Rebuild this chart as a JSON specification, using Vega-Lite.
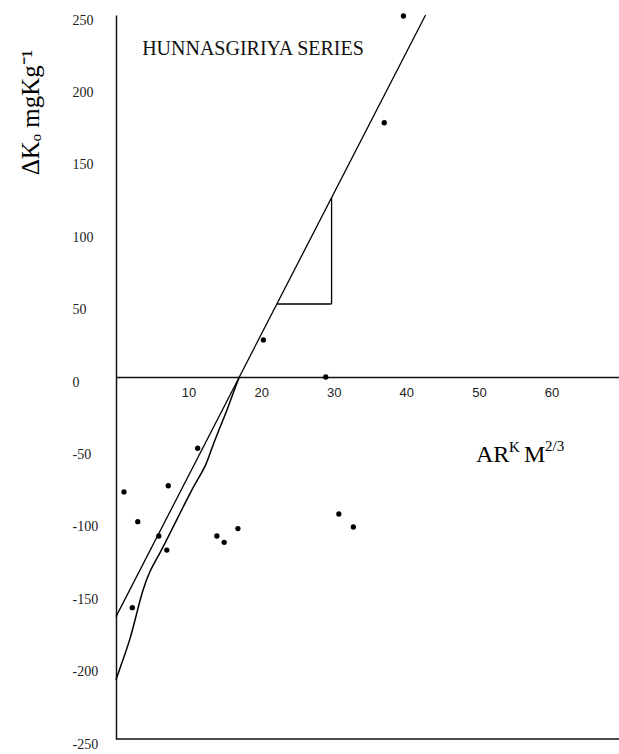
{
  "$schema": "https://vega.github.io/schema/vega-lite/v6.json",
  "width": 503,
  "height": 724,
  "autosize": {"type": "none"},
  "padding": {"left": 116, "top": 15, "right": 0, "bottom": 15},
  "background": "white",
  "config": {
    "view": {"stroke": null},
    "axis": {"grid": false, "ticks": false, "domainColor": "#111", "domainWidth": 1.5},
    "axisX": {"labelFont": "Liberation Sans", "labelFontSize": 13, "labelColor": "#222"},
    "axisY": {"labelFont": "Liberation Serif", "labelFontSize": 14, "labelColor": "#222"}
  },
  "datasets": {
    "samples": [
      {"x": 1.1, "y": -79.4},
      {"x": 3.0, "y": -99.9},
      {"x": 2.25, "y": -159.3},
      {"x": 5.9, "y": -109.8},
      {"x": 7.2, "y": -75.1},
      {"x": 7.0, "y": -119.5},
      {"x": 11.25, "y": -49.2},
      {"x": 13.9, "y": -109.8},
      {"x": 14.9, "y": -114.2},
      {"x": 16.8, "y": -104.7},
      {"x": 20.3, "y": 25.6},
      {"x": 28.9, "y": 0},
      {"x": 30.7, "y": -94.6},
      {"x": 32.7, "y": -103.6},
      {"x": 36.96, "y": 175.6},
      {"x": 39.6, "y": 249.3}
    ],
    "segments": [
      {"x": 0, "y": -165.5, "x2": 42.65, "y2": 250},
      {"x": 22.2, "y": 50.4, "x2": 29.7, "y2": 50.4},
      {"x": 29.7, "y": 50.4, "x2": 29.7, "y2": 123.8}
    ],
    "curve": [
      {"x": 0.0, "y": -209},
      {"x": 0.79, "y": -197.7},
      {"x": 1.93, "y": -181.6},
      {"x": 2.85, "y": -163.2},
      {"x": 3.68, "y": -147.1},
      {"x": 4.68, "y": -133.3},
      {"x": 6.06, "y": -121.6},
      {"x": 6.75, "y": -114.8},
      {"x": 7.99, "y": -102.4},
      {"x": 9.27, "y": -89.6},
      {"x": 10.43, "y": -78.0},
      {"x": 11.34, "y": -70.1},
      {"x": 12.4, "y": -60.9},
      {"x": 12.95, "y": -52.5},
      {"x": 14.09, "y": -37.6},
      {"x": 15.47, "y": -20.8},
      {"x": 16.4, "y": -7.4},
      {"x": 17.0, "y": 0}
    ],
    "anchor": [{}]
  },
  "layer": [
    {
      "data": {"name": "samples"},
      "mark": {"type": "point", "filled": true, "color": "#000", "size": 28, "opacity": 1},
      "encoding": {
        "x": {
          "field": "x",
          "type": "quantitative",
          "scale": {"domain": [0, 69.3], "nice": false, "zero": false},
          "axis": {
            "orient": "bottom",
            "offset": -362,
            "values": [10, 20, 30, 40, 50, 60],
            "labelPadding": 9,
            "labelFont": "Liberation Sans",
            "labelFontSize": 13,
            "labelColor": "#222",
            "title": null
          }
        },
        "y": {
          "field": "y",
          "type": "quantitative",
          "scale": {"domain": [-250, 250], "nice": false, "zero": false},
          "axis": {
            "values": [-250, -200, -150, -100, -50, 0, 50, 100, 150, 200, 250],
            "labelExpr": "replace(datum.label, '−', '-')",
            "labelAlign": "left",
            "labelPadding": 44,
            "labelOffset": 5,
            "labelFont": "Liberation Serif",
            "labelFontSize": 14,
            "labelColor": "#222",
            "title": "ΔKₒ mgKg⁻¹",
            "titleFont": "Liberation Serif",
            "titleFontSize": 25,
            "titleFontWeight": "normal",
            "titleColor": "#000",
            "titleAngle": -90,
            "titleAlign": "center",
            "titleBaseline": "alphabetic",
            "titleX": -78,
            "titleY": 97
          }
        }
      }
    },
    {
      "data": {"name": "anchor"},
      "mark": {"type": "rule", "color": "#111", "strokeWidth": 1.5},
      "encoding": {"y": {"datum": -250}}
    },
    {
      "data": {"name": "segments"},
      "mark": {"type": "rule", "color": "#000", "strokeWidth": 1.3},
      "encoding": {
        "x": {"field": "x", "type": "quantitative"},
        "y": {"field": "y", "type": "quantitative"},
        "x2": {"field": "x2"},
        "y2": {"field": "y2"}
      }
    },
    {
      "data": {"name": "curve"},
      "mark": {"type": "line", "color": "#000", "strokeWidth": 1.5, "interpolate": "basis"},
      "encoding": {
        "x": {"field": "x", "type": "quantitative"},
        "y": {"field": "y", "type": "quantitative"}
      }
    },
    {
      "data": {"name": "anchor"},
      "mark": {"type": "text", "text": "HUNNASGIRIYA SERIES", "font": "Liberation Serif", "fontSize": 20, "align": "left", "baseline": "alphabetic", "color": "#111"},
      "encoding": {"x": {"datum": 3.6}, "y": {"datum": 222.4}}
    },
    {
      "data": {"name": "anchor"},
      "mark": {"type": "text", "text": "AR", "font": "Liberation Serif", "fontSize": 24, "align": "left", "baseline": "alphabetic", "color": "#000"},
      "encoding": {"x": {"datum": 49.6}, "y": {"datum": -58.7}}
    },
    {
      "data": {"name": "anchor"},
      "mark": {"type": "text", "text": "K", "font": "Liberation Serif", "fontSize": 15, "align": "left", "baseline": "alphabetic", "dx": 33, "dy": -10, "color": "#000"},
      "encoding": {"x": {"datum": 49.6}, "y": {"datum": -58.7}}
    },
    {
      "data": {"name": "anchor"},
      "mark": {"type": "text", "text": "M", "font": "Liberation Serif", "fontSize": 24, "align": "left", "baseline": "alphabetic", "dx": 48, "color": "#000"},
      "encoding": {"x": {"datum": 49.6}, "y": {"datum": -58.7}}
    },
    {
      "data": {"name": "anchor"},
      "mark": {"type": "text", "text": "2/3", "font": "Liberation Serif", "fontSize": 15, "align": "left", "baseline": "alphabetic", "dx": 69, "dy": -11, "color": "#000"},
      "encoding": {"x": {"datum": 49.6}, "y": {"datum": -58.7}}
    }
  ]
}
